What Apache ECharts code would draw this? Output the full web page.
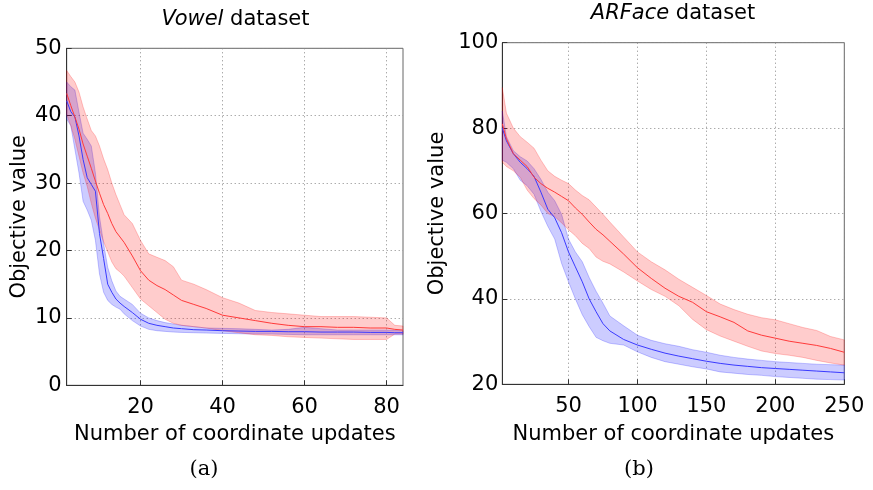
<!DOCTYPE html>
<html><head><meta charset="utf-8">
<script src="https://cdn.jsdelivr.net/npm/echarts@6/dist/echarts.min.js"></script>
<style>html,body{margin:0;padding:0;background:#fff}#c{width:873px;height:490px}</style>
</head><body><div id="c"></div>
<script>
// ---------- Vowel dataset (a) ----------
const vowelX        = [2,3,4,5,6,7,8,9,10,11,12,13,14,15,16,18,20,22,24,26,28,30,33,36,40,44,48,52,56,60,64,68,72,76,80,82,84];
const vowelRedMean  = [43.3,41.5,39.8,38,35.8,34,32.2,30.3,28.5,26.8,25.5,24,22.8,22,21.2,19.2,17.0,15.6,14.8,14.2,13.4,12.6,12.0,11.4,10.4,10.0,9.6,9.2,8.9,8.7,8.7,8.6,8.6,8.5,8.5,8.3,8.2];
const vowelRedHigh  = [46.7,45.8,45,43.5,41.3,39.5,37.8,37,35.5,33.6,32,30,28.3,26.8,25.3,24.0,21.5,19.5,19.0,18.5,17.6,15.6,15.0,14.2,13.0,12.2,11.1,10.8,10.6,10.4,10.2,10.2,10.2,10.1,10.0,8.9,8.8];
const vowelRedLow   = [40.2,38.5,36.5,34,31.5,29.5,27,24.8,23,21.3,19.8,18.3,17.3,16.8,16.2,14.5,12.8,11.8,10.8,9.8,9.2,8.9,8.7,8.5,8.1,7.8,7.5,7.4,7.2,7.1,7.0,6.9,6.8,6.8,6.8,7.6,7.6];
const vowelBlueMean = [42.2,40.6,39.8,37,33.5,30.8,29.8,28.8,22.5,18.8,15,13.8,12.8,12.2,11.7,10.8,9.8,9.2,8.9,8.7,8.5,8.4,8.25,8.2,8.1,8.05,8.0,8.0,7.95,7.95,7.9,7.9,7.9,7.85,7.85,7.8,7.8];
const vowelBlueHigh = [45,44.3,43.8,40.5,37.4,36.5,35.5,31.5,25,21,17.5,15.5,14.0,13.2,12.8,12.0,10.7,10.0,9.6,9.3,9.1,8.9,8.7,8.5,8.45,8.4,8.3,8.2,8.3,8.6,8.4,8.2,8.2,8.2,8.2,8.15,8.1];
const vowelBlueLow  = [39.5,38.5,35,31.5,27.3,26,24.5,21.5,16.5,13.8,12.6,12,11.6,11.3,10.6,9.6,8.8,8.3,8.1,8.0,7.9,7.85,7.8,7.75,7.7,7.65,7.6,7.6,7.55,7.5,7.5,7.5,7.5,7.5,7.5,7.5,7.5];
const vowelXTicks   = [20,40,60,80];

// ---------- ARFace dataset (b) ----------
const arX        = [2,5,10,15,20,25,30,35,40,45,50,55,60,65,70,75,80,90,100,110,120,130,140,150,160,170,180,190,200,210,220,230,240,250];
const arRedMean  = [81,77.5,74,72.5,71,68.5,67,65.9,65,64,63,61.3,59.8,58,56.3,55,53.5,50.5,47.3,44.8,42.5,40.6,39.2,37,35.8,34.5,32.5,31.5,30.8,30.1,29.6,29.1,28.4,27.5];
const arRedHigh  = [89.5,83.5,80,78,76.7,75.3,72.5,70,68.7,67.8,67,65.5,64.2,63.2,61.5,59.8,58,54.5,51,48.7,46.8,44.6,42.7,40.8,38.8,37.5,36.4,35.6,35.1,34.2,33.3,32.6,31.2,30.4];
const arRedLow   = [72,71,70,68.5,65.5,63.5,62,60,59.3,57.8,56.2,54.8,53,51.8,49.8,48.8,48.2,46.3,44.2,42.2,40.6,38.4,35.2,32.8,31.3,30.1,28.9,27.8,27.2,26.8,26.3,25.6,25.0,24.5];
const arBlueMean = [80,77,74,72,70.5,68.7,65,61,59,55.5,51,47.5,44,40,37,34.2,32.5,30.5,29.2,28.2,27.3,26.6,26.0,25.4,24.9,24.5,24.2,23.9,23.7,23.5,23.3,23.1,22.9,22.7];
const arBlueHigh = [84,78,74.7,73.3,72.3,70.5,68,65,63,59.8,54,51,48.7,45,41.8,39,36,33.7,31.5,30.3,29.5,28.9,28.1,27.5,26.8,26.3,25.9,25.6,25.3,25.1,24.9,24.7,24.6,24.5];
const arBlueLow  = [72.5,72,70.5,67.8,66.5,64.5,60.5,57,54,48.3,44,40,36.3,33.5,31,30.2,29.6,29.2,27.6,26.3,25.3,24.7,24.1,23.6,22.9,22.6,22.3,22.1,21.8,21.6,21.4,21.2,21.1,21.0];
const arXTicks   = [50,100,150,200,250];

const titles   = ['Vowel', 'ARFace'];
const captions = ['(a)', '(b)'];
const xName = 'Number of coordinate updates';
const yName = 'Objective value';

const SANS = '"DejaVu Sans", sans-serif';
const SERIF = '"DejaVu Serif", serif';

function pairs(xs, ys) { return xs.map((x, i) => [x, ys[i]]); }
function band(xs, lo, hi, rgb, g) {
  return {
    type: 'custom', xAxisIndex: g, yAxisIndex: g, silent: true, z: 2,
    data: pairs(xs, hi),
    renderItem: function (params, api) {
      if (params.dataIndex !== 0) return;
      const pts = [];
      for (let i = 0; i < xs.length; i++) pts.push(api.coord([xs[i], hi[i]]));
      for (let i = xs.length - 1; i >= 0; i--) pts.push(api.coord([xs[i], lo[i]]));
      return { type: 'polygon', shape: { points: pts },
        style: { fill: 'rgba(' + rgb + ',0.2)', stroke: 'rgba(' + rgb + ',0.22)', lineWidth: 1 } };
    }
  };
}
function meanLine(xs, ys, color, g) {
  return { type: 'line', xAxisIndex: g, yAxisIndex: g, data: pairs(xs, ys), showSymbol: false,
    symbol: 'none', lineStyle: { color: color, width: 1 }, silent: true, z: 3 };
}
const grid = { show: true, borderColor: '#666', borderWidth: 1, backgroundColor: 'transparent' };
const gridLine = { show: true, lineStyle: { type: [1, 3], color: '#888', width: 1 } };
const lbl = { color: '#000', fontSize: 21, fontFamily: SANS };
function xAx(g, min, max, ticks, gap) {
  return { gridIndex: g, type: 'value', min: min, max: max,
    axisLabel: Object.assign({ customValues: ticks, margin: 12 }, lbl),
    axisTick: { customValues: ticks, inside: true, length: 5, lineStyle: { color: '#333' } },
    axisLine: { lineStyle: { color: '#333' } }, splitLine: gridLine,
    name: xName, nameLocation: 'middle', nameGap: gap, nameTextStyle: lbl };
}
function yAx(g, min, max, interval, gap, margin) {
  return { gridIndex: g, type: 'value', min: min, max: max, interval: interval,
    axisLabel: Object.assign({ margin: margin }, lbl),
    axisTick: { show: true, inside: true, length: 5, lineStyle: { color: '#333' } },
    axisLine: { show: true, lineStyle: { color: '#333' } }, splitLine: gridLine,
    name: yName, nameLocation: 'middle', nameGap: gap, nameTextStyle: lbl };
}
const titleStyle = { fontSize: 21, fontWeight: 'normal', fontFamily: SANS, color: '#000',
  rich: { i: { fontStyle: 'italic', fontSize: 21, fontFamily: SANS, color: '#000' },
          n: { fontSize: 21, fontFamily: SANS, color: '#000' } } };

const chart = echarts.init(document.getElementById('c'), null, { renderer: 'canvas' });
chart.setOption({
  animation: false,
  backgroundColor: '#fff',
  title: [
    { text: '{i|' + titles[0] + '}{n| dataset}', left: 235.5, top: 9, textAlign: 'center', padding: 0, textStyle: titleStyle },
    { text: '{i|' + titles[1] + '}{n| dataset}', left: 673, top: 3, textAlign: 'center', padding: 0, textStyle: titleStyle }
  ],
  grid: [
    Object.assign({ left: 66.7, top: 48.3, width: 336.3, height: 337 }, grid),
    Object.assign({ left: 502.3, top: 42.7, width: 342, height: 341.6 }, grid)
  ],
  xAxis: [ xAx(0, 2, 84, vowelXTicks, 39), xAx(1, 2, 250, arXTicks, 40) ],
  yAxis: [ yAx(0, 0, 50, 10, 37, 5), yAx(1, 20, 100, 20, 54, 4) ],
  graphic: [
    { type: 'text', x: 204, y: 470, style: { text: captions[0], font: '21px ' + SERIF, fill: '#000', align: 'center', verticalAlign: 'middle' } },
    { type: 'text', x: 639, y: 470, style: { text: captions[1], font: '21px ' + SERIF, fill: '#000', align: 'center', verticalAlign: 'middle' } }
  ],
  series: [
    band(vowelX, vowelBlueLow, vowelBlueHigh, '0,0,255', 0),
    meanLine(vowelX, vowelBlueMean, '#3a3aff', 0),
    band(vowelX, vowelRedLow, vowelRedHigh, '255,0,0', 0),
    meanLine(vowelX, vowelRedMean, '#ff3a3a', 0),
    band(arX, arBlueLow, arBlueHigh, '0,0,255', 1),
    meanLine(arX, arBlueMean, '#3a3aff', 1),
    band(arX, arRedLow, arRedHigh, '255,0,0', 1),
    meanLine(arX, arRedMean, '#ff3a3a', 1)
  ]
});
</script></body></html>
